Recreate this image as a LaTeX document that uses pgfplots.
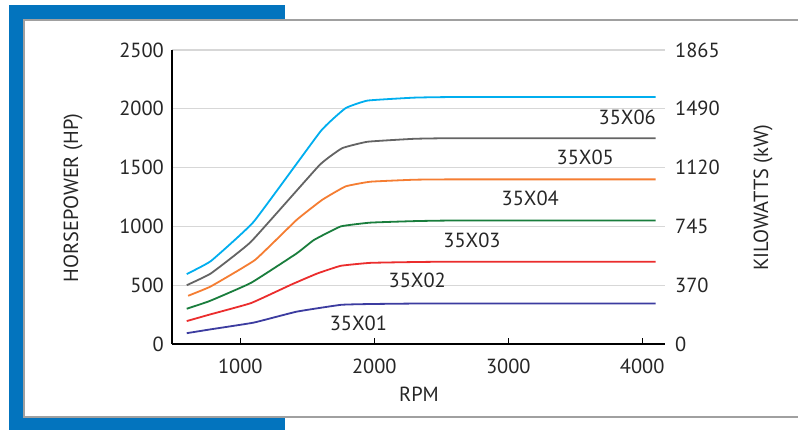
\documentclass[border=0pt]{standalone}
\usepackage{fontspec}
\setmainfont{PT Sans}
\usepackage{pgfplots}
\pgfplotsset{compat=1.18}

\definecolor{frameblue}{RGB}{3,116,190}
\definecolor{framegray}{RGB}{160,160,160}
\definecolor{gridgray}{RGB}{215,215,215}
\definecolor{c06}{RGB}{0,174,239}
\definecolor{c05}{RGB}{100,100,100}
\definecolor{c04}{RGB}{245,125,50}
\definecolor{c03}{RGB}{25,125,60}
\definecolor{c02}{RGB}{235,45,45}
\definecolor{c01}{RGB}{60,60,160}

\begin{document}
\fontsize{20.5}{24}\selectfont
\begin{tikzpicture}[x=1bp,y=1bp]
\useasboundingbox (0,0) rectangle (798,430);
\clip (0,0) rectangle (798,430);
% frame
\fill[frameblue] (9,0) rectangle (285,425);
\filldraw[fill=white, draw=framegray, line width=2bp] (24,13) rectangle (810,410);

\begin{axis}[
    at={(172bp,86bp)}, anchor=south west,
    scale only axis,
    width=493bp, height=294bp,
    xmin=490, xmax=4170,
    ymin=0, ymax=2500,
    axis lines=left,
    axis line style={-, black, line width=1.3bp},
    xtick={1000,2000,3000,4000},
    ytick={0,500,1000,1500,2000,2500},
    tick align=inside,
    major tick length=6bp,
    xtick style={black, line width=1bp},
    ytick style={draw=none},
    ymajorgrids,
    grid style={gridgray, line width=1.2bp},
    /pgf/number format/assume math mode=true,
    /pgf/number format/1000 sep={},
    tick label style={font=\fontsize{20.5}{24}\selectfont, text=black!85},
    yticklabel style={anchor=east, inner xsep=0pt, xshift=-8bp},
    xticklabel style={anchor=north, inner ysep=0pt, yshift=-15bp},
    every axis plot/.append style={line width=1.8bp, line join=round, smooth, tension=0.2},
    clip=false,
]
% 35X06
\addplot[c06] coordinates {(600,595) (780,705) (1100,1040) (1600,1810) (1785,2005) (1950,2070) (2300,2095) (2600,2100) (4100,2100)};
% 35X05
\addplot[c05] coordinates {(600,500) (780,600) (1080,870) (1590,1520) (1760,1665) (1950,1720) (2300,1745) (2600,1750) (4100,1750)};
% 35X04
\addplot[c04] coordinates {(610,410) (780,490) (1110,715) (1420,1055) (1610,1225) (1785,1340) (1970,1380) (2300,1397) (2600,1400) (4100,1400)};
% 35X03
\addplot[c03] coordinates {(600,300) (770,365) (1080,520) (1420,770) (1550,885) (1750,1000) (1970,1032) (2300,1045) (2600,1050) (4100,1050)};
% 35X02
\addplot[c02] coordinates {(600,195) (770,250) (1080,348) (1380,505) (1575,600) (1750,665) (1970,690) (2300,697) (2600,700) (4100,700)};
% 35X01
\addplot[c01] coordinates {(600,92) (780,125) (1100,182) (1420,275) (1750,333) (1970,340) (2300,344) (2600,345) (4100,345)};

\node[text=black!85] at (axis cs:3888,1930) {35X06};
\node[text=black!85] at (axis cs:3575,1590) {35X05};
\node[text=black!85] at (axis cs:3164,1241) {35X04};
\node[text=black!85] at (axis cs:2729,884) {35X03};
\node[text=black!85] at (axis cs:2321,544) {35X02};
\node[text=black!85] at (axis cs:1881,179) {35X01};
\end{axis}

% right-hand kW scale
\begin{axis}[
    at={(172bp,86bp)}, anchor=south west,
    scale only axis,
    width=493bp, height=294bp,
    xmin=490, xmax=4170,
    ymin=0, ymax=2500,
    hide x axis,
    axis y line*=right,
    y axis line style={draw=none},
    ytick={0,500,1000,1500,2000,2500},
    yticklabels={0,370,745,1120,1490,1865},
    ytick style={draw=none},
    tick label style={font=\fontsize{20.5}{24}\selectfont, text=black!85},
    yticklabel style={anchor=west, inner xsep=0pt, xshift=10bp},
]
\end{axis}

\node[rotate=90, text=black!85] at (73,232) {HORSEPOWER (HP)};
\node[rotate=90, text=black!85] at (763,232) {KILOWATTS (kW)};
\node[text=black!85] at (419,36) {RPM};
\end{tikzpicture}
\end{document}
